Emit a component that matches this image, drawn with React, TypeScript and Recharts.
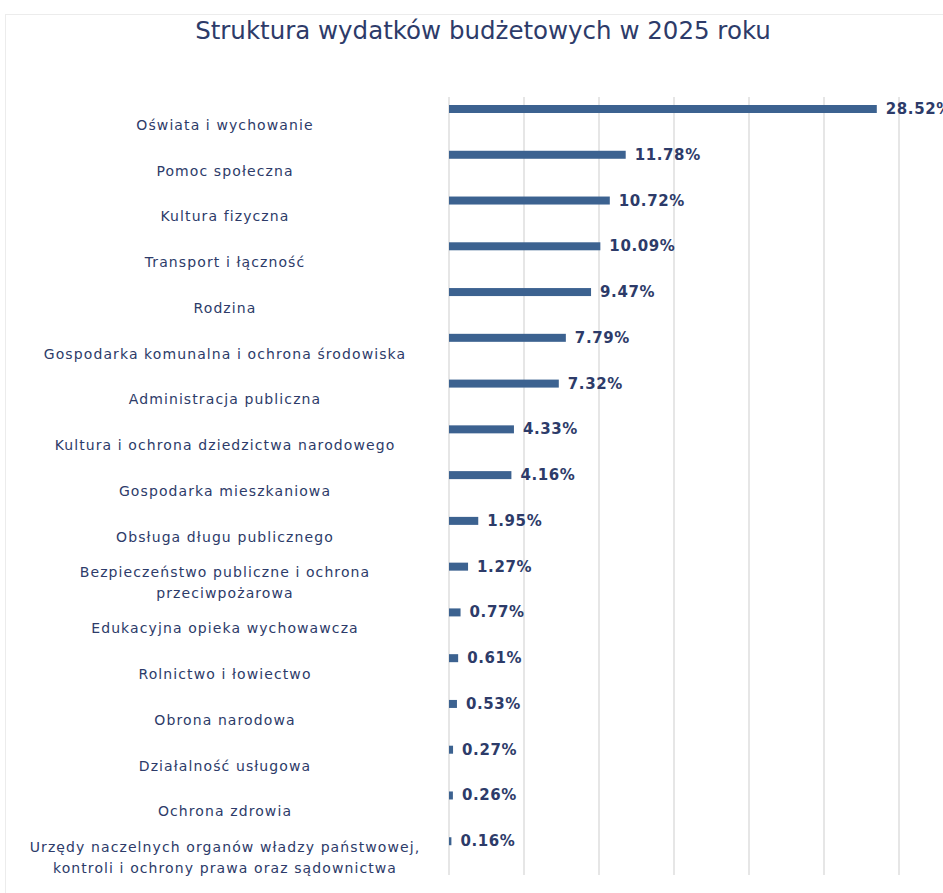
import React from "react";
import { BarChart, Bar, XAxis, YAxis, CartesianGrid, LabelList } from "recharts";

const categories = [
  "Oświata i wychowanie",
  "Pomoc społeczna",
  "Kultura fizyczna",
  "Transport i łączność",
  "Rodzina",
  "Gospodarka komunalna i ochrona środowiska",
  "Administracja publiczna",
  "Kultura i ochrona dziedzictwa narodowego",
  "Gospodarka mieszkaniowa",
  "Obsługa długu publicznego",
  "Bezpieczeństwo publiczne i ochrona\nprzeciwpożarowa",
  "Edukacyjna opieka wychowawcza",
  "Rolnictwo i łowiectwo",
  "Obrona narodowa",
  "Działalność usługowa",
  "Ochrona zdrowia",
  "Urzędy naczelnych organów władzy państwowej,\nkontroli i ochrony prawa oraz sądownictwa",
];

const shares = [28.52, 11.78, 10.72, 10.09, 9.47, 7.79, 7.32, 4.33, 4.16, 1.95, 1.27, 0.77, 0.61, 0.53, 0.27, 0.26, 0.16];

const xTicks = [0, 5, 10, 15, 20, 25, 30];

const data = categories.map((name, i) => ({ name, value: shares[i] }));

const NAVY = "#2d3b69";
const BAR = "#3c6290";
const BAR_SHIFT = -11;

function CategoryTick(props: any) {
  const { y, payload } = props;
  const lines: string[] = String(payload.value).split("\n");
  const lineH = 21;
  const start = y + 5 - ((lines.length - 1) * lineH) / 2;
  return (
    <text
      x={225}
      y={start}
      textAnchor="middle"
      dominantBaseline="central"
      fill={NAVY}
      fontSize={14}
      letterSpacing={1.1}
      fontFamily="DejaVu Sans, sans-serif"
    >
      {lines.map((l, i) => (
        <tspan key={i} x={225} dy={i === 0 ? 0 : lineH}>
          {l}
        </tspan>
      ))}
    </text>
  );
}

function ShiftedBar(props: any) {
  const { x, y, width, height } = props;
  return <rect x={x} y={y + BAR_SHIFT} width={Math.max(width, 2)} height={height} fill={BAR} />;
}

function ValueLabel(props: any) {
  const { x, y, width, height, value } = props;
  return (
    <text
      x={x + Math.max(width, 2) + 9}
      y={y + height / 2 + BAR_SHIFT}
      dominantBaseline="central"
      fill={NAVY}
      fontSize={15}
      fontWeight="bold"
      letterSpacing={0.6}
      fontFamily="DejaVu Sans, sans-serif"
    >
      {value.toFixed(2)}%
    </text>
  );
}

export default function App() {
  return (
    <div style={{ position: "absolute", left: 0, top: 0, width: 943, height: 893, background: "#fff", overflow: "hidden" }}>
      <div
        style={{
          position: "absolute",
          left: 5,
          top: 14,
          width: 960,
          height: 900,
          border: "1px solid #ececec",
        }}
      />
      <div
        style={{
          position: "absolute",
          top: 16,
          left: 0,
          width: 966,
          textAlign: "center",
          fontFamily: "DejaVu Sans, sans-serif",
          fontSize: 24.5,
          color: NAVY,
        }}
      >
        Struktura wydatków budżetowych w 2025 roku
      </div>
      <div style={{ position: "absolute", left: 0, top: 0 }}>
        <BarChart
          width={943}
          height={893}
          data={data}
          layout="vertical"
          margin={{ top: 97, right: 44, bottom: 18, left: 0 }}
        >
          <CartesianGrid horizontal={false} stroke="#e6e6e6" strokeWidth={2} />
          <XAxis type="number" domain={[0, 30]} ticks={xTicks} hide />
          <YAxis
            type="category"
            dataKey="name"
            width={449}
            tickLine={false}
            axisLine={false}
            interval={0}
            tick={<CategoryTick />}
          />
          <Bar dataKey="value" barSize={8} shape={<ShiftedBar />} isAnimationActive={false}>
            <LabelList dataKey="value" content={<ValueLabel />} />
          </Bar>
        </BarChart>
      </div>
    </div>
  );
}
